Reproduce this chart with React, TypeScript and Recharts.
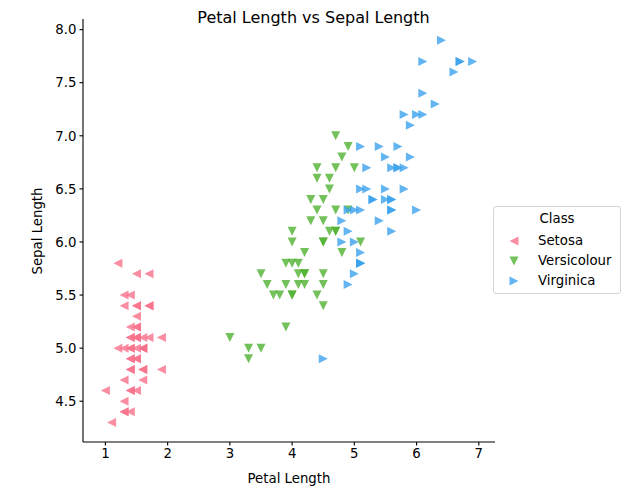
import { ScatterChart, Scatter, XAxis, YAxis, Legend } from "recharts";

// iris: petal length (x) and sepal length (y) per class
const setosaPetal = [1.4, 1.4, 1.3, 1.5, 1.4, 1.7, 1.4, 1.5, 1.4, 1.5, 1.5, 1.6, 1.4, 1.1, 1.2, 1.5, 1.3, 1.4, 1.7, 1.5, 1.7, 1.5, 1.0, 1.7, 1.9, 1.6, 1.6, 1.5, 1.4, 1.6, 1.6, 1.5, 1.5, 1.4, 1.5, 1.2, 1.3, 1.4, 1.3, 1.5, 1.3, 1.3, 1.3, 1.6, 1.9, 1.4, 1.6, 1.4, 1.5, 1.4];
const setosaSepal = [5.1, 4.9, 4.7, 4.6, 5.0, 5.4, 4.6, 5.0, 4.4, 4.9, 5.4, 4.8, 4.8, 4.3, 5.8, 5.7, 5.4, 5.1, 5.7, 5.1, 5.4, 5.1, 4.6, 5.1, 4.8, 5.0, 5.0, 5.2, 5.2, 4.7, 4.8, 5.4, 5.2, 5.5, 4.9, 5.0, 5.5, 4.9, 4.4, 5.1, 5.0, 4.5, 4.4, 5.0, 5.1, 4.8, 5.1, 4.6, 5.3, 5.0];

const versicolourPetal = [4.7, 4.5, 4.9, 4.0, 4.6, 4.5, 4.7, 3.3, 4.6, 3.9, 3.5, 4.2, 4.0, 4.7, 3.6, 4.4, 4.5, 4.1, 4.5, 3.9, 4.8, 4.0, 4.9, 4.7, 4.3, 4.4, 4.8, 5.0, 4.5, 3.5, 3.8, 3.7, 3.9, 5.1, 4.5, 4.5, 4.7, 4.4, 4.1, 4.0, 4.4, 4.6, 4.0, 3.3, 4.2, 4.2, 4.2, 4.3, 3.0, 4.1];
const versicolourSepal = [7.0, 6.4, 6.9, 5.5, 6.5, 5.7, 6.3, 4.9, 6.6, 5.2, 5.0, 5.9, 6.0, 6.1, 5.6, 6.7, 5.6, 5.8, 6.2, 5.6, 5.9, 6.1, 6.3, 6.1, 6.4, 6.6, 6.8, 6.7, 6.0, 5.7, 5.5, 5.5, 5.8, 6.0, 5.4, 6.0, 6.7, 6.3, 5.6, 5.5, 5.5, 6.1, 5.8, 5.0, 5.6, 5.7, 5.7, 6.2, 5.1, 5.7];

const virginicaPetal = [6.0, 5.1, 5.9, 5.6, 5.8, 6.6, 4.5, 6.3, 5.8, 6.1, 5.1, 5.3, 5.5, 5.0, 5.1, 5.3, 5.5, 6.7, 6.9, 5.0, 5.7, 4.9, 6.7, 4.9, 5.7, 6.0, 4.8, 4.9, 5.6, 5.8, 6.1, 6.4, 5.6, 5.1, 5.6, 6.1, 5.6, 5.5, 4.8, 5.4, 5.6, 5.1, 5.1, 5.9, 5.7, 5.2, 5.0, 5.2, 5.4, 5.1];
const virginicaSepal = [6.3, 5.8, 7.1, 6.3, 6.5, 7.6, 4.9, 7.3, 6.7, 7.2, 6.5, 6.4, 6.8, 5.7, 5.8, 6.4, 6.5, 7.7, 7.7, 6.0, 6.9, 5.6, 7.7, 6.3, 6.7, 7.2, 6.2, 6.1, 6.4, 7.2, 7.4, 7.9, 6.4, 6.3, 6.1, 7.7, 6.3, 6.4, 6.0, 6.9, 6.7, 6.9, 5.8, 6.8, 6.7, 6.7, 6.3, 6.5, 6.2, 5.9];

const xTicks = [1, 2, 3, 4, 5, 6, 7];
const yTicks = [4.5, 5.0, 5.5, 6.0, 6.5, 7.0, 7.5, 8.0];

const FONT = "DejaVu Sans, sans-serif";
const R = 4.5;

type Dir = "left" | "down" | "right";

function triangle(dir: Dir, cx: number, cy: number, r: number) {
  if (dir === "left") return `${cx - r},${cy} ${cx + r},${cy - r} ${cx + r},${cy + r}`;
  if (dir === "right") return `${cx + r},${cy} ${cx - r},${cy - r} ${cx - r},${cy + r}`;
  return `${cx - r},${cy - r} ${cx + r},${cy - r} ${cx},${cy + r}`;
}

const classes = [
  { name: "Setosa", color: "#f77189", dir: "left" as Dir, x: setosaPetal, y: setosaSepal },
  { name: "Versicolour", color: "#50b131", dir: "down" as Dir, x: versicolourPetal, y: versicolourSepal },
  { name: "Virginica", color: "#3ba3ec", dir: "right" as Dir, x: virginicaPetal, y: virginicaSepal },
];

function makeShape(dir: Dir, color: string) {
  return (props: any) => {
    const { cx, cy } = props;
    if (cx == null || cy == null) return <g />;
    return <polygon points={triangle(dir, cx, cy, R)} fill={color} fillOpacity={0.8} />;
  };
}

function LegendBox() {
  return (
    <div
      style={{
        width: 126,
        height: 86,
        border: "1px solid #d6d6d6",
        borderRadius: 3,
        background: "rgba(255,255,255,0.8)",
        fontFamily: FONT,
        fontSize: 13.3,
        color: "#000",
        position: "relative",
      }}
    >
      <div style={{ position: "absolute", left: 0, width: 126, top: 3, textAlign: "center", lineHeight: "18px" }}>
        Class
      </div>
      {classes.map((c, i) => (
        <div key={c.name} style={{ position: "absolute", left: 0, top: 23 + i * 20, height: 20, display: "flex", alignItems: "center" }}>
          <svg width={40} height={20}>
            <polygon points={triangle(c.dir, 20, 11, R)} fill={c.color} fillOpacity={0.8} />
          </svg>
          <span style={{ marginLeft: 4 }}>{c.name}</span>
        </div>
      ))}
    </div>
  );
}

export default function App() {
  const tick = { fontFamily: FONT, fontSize: 13.3, fill: "#000" };
  return (
    <div style={{ position: "absolute", left: 0, top: 0, width: 627, height: 500, background: "#fff" }}>
      <div
        style={{
          position: "absolute",
          left: 0,
          top: 8,
          width: 627,
          textAlign: "center",
          fontFamily: FONT,
          fontSize: 16,
          lineHeight: "20px",
          color: "#000",
        }}
      >
        Petal Length vs Sepal Length
      </div>
      <ScatterChart width={627} height={500} margin={{ top: 19, right: 132, bottom: 0, left: 0 }}>
        <XAxis
          type="number"
          dataKey="x"
          domain={[0.64, 7.26]}
          ticks={xTicks}
          allowDataOverflow
          height={58}
          tick={tick}
          tickSize={3.5}
          tickMargin={3}
          axisLine={{ stroke: "#000", strokeWidth: 1.1 }}
          tickLine={{ stroke: "#000", strokeWidth: 1.1 }}
          label={{ value: "Petal Length", position: "insideBottom", offset: 17, style: { fontFamily: FONT, fontSize: 13.3, fill: "#000" } }}
        />
        <YAxis
          type="number"
          dataKey="y"
          domain={[4.116, 8.1]}
          ticks={yTicks}
          allowDataOverflow
          width={83}
          tick={tick}
          tickFormatter={(v: number) => v.toFixed(1)}
          tickSize={3.5}
          tickMargin={3}
          axisLine={{ stroke: "#000", strokeWidth: 1.1 }}
          tickLine={{ stroke: "#000", strokeWidth: 1.1 }}
          label={{
            content: () => (
              <text x={37} y={231} transform="rotate(-90 37 231)" textAnchor="middle" dominantBaseline="central" fontFamily={FONT} fontSize={13.3} fill="#000">
                Sepal Length
              </text>
            ),
          }}
        />
        <Legend
          layout="vertical"
          align="center"
          verticalAlign="middle"
          wrapperStyle={{ left: 493, top: 206, width: 128 }}
          content={() => <LegendBox />}
        />
        {classes.map((c) => (
          <Scatter
            key={c.name}
            name={c.name}
            data={c.x.map((x, i) => ({ x, y: c.y[i] }))}
            fill={c.color}
            shape={makeShape(c.dir, c.color)}
            isAnimationActive={false}
          />
        ))}
      </ScatterChart>
    </div>
  );
}
